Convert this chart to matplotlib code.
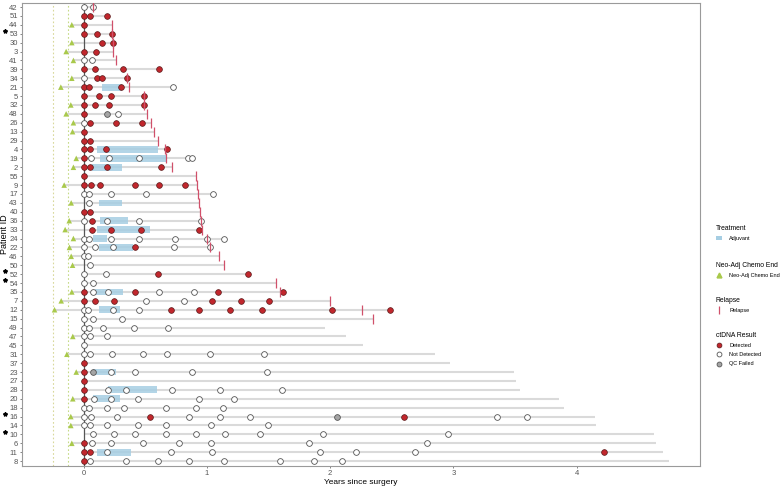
import numpy as np
import matplotlib
matplotlib.use("Agg")
import matplotlib.pyplot as plt
from matplotlib.lines import Line2D
from matplotlib.patches import Patch
import matplotlib.transforms as mtransforms

plt.rcParams["font.family"] = ["Liberation Sans", "DejaVu Sans"]

# patients top -> bottom
patients = ["42", "51", "44", "53", "30", "3", "41", "39", "34", "21", "5", "32", "48", "26",
            "13", "29", "4", "19", "2", "55", "9", "17", "43", "40", "36", "33", "24", "22",
            "46", "50", "52", "54", "35", "7", "12", "15", "49", "47", "45", "31", "37", "23",
            "27", "28", "20", "18", "16", "14", "10", "6", "11", "8"]
follow_end = [0.08, 0.19, 0.23, 0.23, 0.236, 0.24, 0.26, 0.61, 0.35, 0.727, 0.49, 0.487, 0.51, 0.547,
              0.571, 0.606, 0.68, 0.876, 0.72, 0.913, 0.921, 1.049, 0.938, 0.943, 0.951, 0.962, 1.14, 1.03,
              1.095, 1.14, 1.332, 1.563, 1.62, 2.0, 2.485, 2.347, 1.955, 2.13, 2.266, 2.854, 2.968, 3.49,
              3.51, 3.54, 3.86, 3.9, 4.15, 4.16, 4.63, 4.64, 4.7, 4.75]
starred = ["53", "52", "54", "16", "10"]

neo_end = {"44": -0.096, "30": -0.096, "3": -0.142, "41": -0.083, "34": -0.096, "21": -0.185,
           "32": -0.104, "48": -0.142, "26": -0.083, "13": -0.09, "19": -0.06, "2": -0.083,
           "9": -0.158, "43": -0.101, "36": -0.117, "33": -0.15, "24": -0.083, "22": -0.115,
           "46": -0.101, "50": -0.09, "35": -0.096, "7": -0.182, "12": -0.236, "47": -0.088,
           "31": -0.136, "23": -0.06, "20": -0.088, "16": -0.104, "14": -0.104, "6": -0.096}

relapse = {"42": 0.08, "44": 0.23, "53": 0.23, "30": 0.236, "3": 0.24, "41": 0.26, "34": 0.35,
           "21": 0.366, "5": 0.487, "32": 0.487, "48": 0.51, "26": 0.547, "13": 0.571, "29": 0.606,
           "4": 0.66, "19": 0.668, "2": 0.72, "55": 0.913, "9": 0.921, "17": 0.93, "43": 0.938,
           "40": 0.943, "36": 0.951, "33": 0.962, "24": 0.997, "22": 1.024, "46": 1.097, "50": 1.138,
           "54": 1.561, "35": 1.589, "7": 2.0, "12": 2.26, "15": 2.347}

adjuvant = {"21": (0.152, 0.314), "4": (0.112, 0.606), "19": (0.134, 0.674), "2": (0.071, 0.314),
            "43": (0.126, 0.314), "36": (0.134, 0.358), "33": (0.112, 0.541), "24": (0.074, 0.188),
            "22": (0.126, 0.398), "35": (0.093, 0.322), "12": (0.126, 0.296), "23": (0.074, 0.263),
            "28": (0.201, 0.593), "20": (0.08, 0.296), "11": (0.112, 0.382)}

detected = {"51": [0, 0.053, 0.19], "44": [0], "53": [0, 0.11, 0.23], "30": [0.145, 0.236],
            "3": [0, 0.104], "39": [0, 0.09, 0.32, 0.61], "34": [0.107, 0.15, 0.35],
            "21": [0, 0.045, 0.30], "5": [0, 0.126, 0.225, 0.487], "32": [0, 0.093, 0.206, 0.487],
            "48": [0], "26": [0.053, 0.263, 0.47], "13": [0], "29": [0, 0.053],
            "4": [0, 0.05, 0.185, 0.68], "19": [0], "2": [0, 0.053, 0.188, 0.63], "55": [0],
            "9": [0, 0.061, 0.136, 0.417, 0.614, 0.82], "40": [0, 0.055], "36": [0.071],
            "33": [0.071, 0.223, 0.466, 0.935], "22": [0.417], "52": [0.606, 1.332],
            "35": [0, 0.417, 1.092, 1.618], "7": [0, 0.09, 0.247, 1.043, 1.278, 1.505],
            "12": [0.706, 0.935, 1.19, 1.445, 2.015, 2.485], "37": [0], "23": [0], "27": [0],
            "28": [0], "20": [0], "16": [0.536, 2.598], "6": [0], "11": [0, 0.055, 4.22], "8": [0]}

not_detected = {"42": [0, 0.075], "41": [0, 0.071], "34": [0], "21": [0.727], "48": [0.28], "26": [0],
                "19": [0.058, 0.206, 0.447, 0.846, 0.876], "17": [0, 0.042, 0.22, 0.506, 1.049],
                "43": [0.047], "36": [0, 0.188, 0.452, 0.951],
                "24": [0, 0.047, 0.223, 0.449, 0.741, 0.997, 1.14], "22": [0, 0.093, 0.239, 0.733, 1.024],
                "46": [0, 0.034], "50": [0.055], "52": [0, 0.182], "54": [0, 0.074],
                "35": [0.074, 0.196, 0.611, 0.892], "7": [0.506, 0.811], "12": [0, 0.034, 0.239, 0.447],
                "15": [0, 0.074, 0.312], "49": [0, 0.042, 0.155, 0.409, 0.684], "47": [0, 0.05, 0.188],
                "45": [0], "31": [0, 0.053, 0.228, 0.482, 0.68, 1.024, 1.467],
                "23": [0.225, 0.417, 0.876, 1.491], "28": [0.196, 0.347, 0.717, 1.103, 1.61],
                "20": [0.088, 0.225, 0.439, 0.935, 1.216], "18": [0, 0.042, 0.19, 0.328, 0.665, 0.911, 1.127],
                "16": [0, 0.058, 0.271, 0.854, 1.108, 1.346, 3.35, 3.6],
                "14": [0, 0.053, 0.19, 0.439, 0.665, 1.03, 1.497],
                "10": [0.074, 0.247, 0.417, 0.665, 0.911, 1.146, 1.427, 1.942, 2.957],
                "6": [0.066, 0.22, 0.479, 0.773, 1.03, 1.83, 2.784],
                "11": [0.188, 0.706, 1.038, 1.92, 2.206, 2.684],
                "8": [0.053, 0.341, 0.606, 0.857, 1.14, 1.596, 1.866, 2.095]}

qc_failed = {"48": [0.188], "23": [0.074], "16": [2.053]}

RED = "#C1272D"
TRI = "#A9C94B"
REL = "#D0506A"
BLUE = "#A6CEE3"
GRAY_TXT = "#555555"

fig = plt.figure(figsize=(7.8, 4.88), dpi=100)
ax = fig.add_axes([22 / 780, 1 - 466 / 488, 678 / 780, 463 / 488])

# reference lines
ax.axvline(-0.25, color="#D8D89A", lw=0.8, ls=(0, (1.5, 2)), zorder=0)
ax.axvline(-0.125, color="#C5DA86", lw=0.8, ls=(0, (1.5, 2)), zorder=0)

ypos = {p: i for i, p in enumerate(patients)}
for p, end in zip(patients, follow_end):
    y = ypos[p]
    start = min(0, neo_end.get(p, 0))
    ax.plot([start, end], [y, y], color="#DADADA", lw=1.5, solid_capstyle="butt", zorder=1)

ax.axvline(0, color="#555555", lw=0.9, zorder=2)

for p, (a, b) in adjuvant.items():
    ax.add_patch(plt.Rectangle((a, ypos[p] - 0.38), b - a, 0.76, facecolor=BLUE,
                               edgecolor="none", alpha=0.85, zorder=3))

# neo-adjuvant chemo end
ax.scatter([neo_end[p] for p in neo_end], [ypos[p] for p in neo_end], marker="^", s=16,
           color=TRI, edgecolor="none", zorder=4)

def pts(d):
    xs, ys = [], []
    for p, vals in d.items():
        xs += vals
        ys += [ypos[p]] * len(vals)
    return xs, ys

x, y = pts(not_detected)
ax.scatter(x, y, s=17, facecolor="white", edgecolor="#555555", linewidth=0.6, zorder=5)
x, y = pts(qc_failed)
ax.scatter(x, y, s=17, facecolor="#A5A5A5", edgecolor="#555555", linewidth=0.6, zorder=5)
x, y = pts(detected)
ax.scatter(x, y, s=17, facecolor=RED, edgecolor="#5a1a1a", linewidth=0.5, zorder=5)

ax.scatter([relapse[p] for p in relapse], [ypos[p] for p in relapse], marker="|", s=45,
           color=REL, linewidth=0.9, zorder=6)

ax.set_xlim(-0.5, 5.0)
ax.set_ylim(51.55, -0.45)
ax.set_yticks(range(len(patients)))
ax.set_yticklabels(patients)
ax.set_xticks([0, 1, 2, 3, 4])
ax.tick_params(axis="both", labelsize=5.5, colors=GRAY_TXT, length=1.5, width=0.5, pad=1.5)
for s in ax.spines.values():
    s.set_color("#9a9a9a")
    s.set_linewidth(0.8)
ax.set_xlabel("Years since surgery", fontsize=6, labelpad=1)
ax.set_ylabel("Patient ID", fontsize=6.5, labelpad=0.5)

# stars next to some patient labels
trans = mtransforms.blended_transform_factory(ax.transAxes, ax.transData)
for p in starred:
    ax.plot(-0.025, ypos[p] - 0.3, marker="*", ms=3, color="black", transform=trans,
            clip_on=False)

# legends
leg_kw = dict(frameon=False, fontsize=4.0, title_fontsize=4.9, alignment="left",
              handlelength=1.0, handletextpad=1.4, borderpad=0, labelspacing=0.75,
              borderaxespad=0)
x0 = 716 / 780
fig.legend([Patch(facecolor=BLUE, edgecolor="none")], ["Adjuvant"], title="Treatment",
           loc="upper left", bbox_to_anchor=(x0, 1 - 225 / 488), **leg_kw)
fig.legend([Line2D([], [], marker="^", ls="", color=TRI, ms=3.5)], ["Neo-Adj Chemo End"],
           title="Neo-Adj Chemo End", loc="upper left", bbox_to_anchor=(x0, 1 - 262 / 488), **leg_kw)
fig.legend([Line2D([], [], marker="|", ls="", color=REL, ms=6, mew=0.9)], ["Relapse"],
           title="Relapse", loc="upper left", bbox_to_anchor=(x0, 1 - 297 / 488), **leg_kw)
fig.legend([Line2D([], [], marker="o", ls="", mfc=RED, mec="#5a1a1a", ms=3.5, mew=0.5),
            Line2D([], [], marker="o", ls="", mfc="white", mec="#555555", ms=3.5, mew=0.6),
            Line2D([], [], marker="o", ls="", mfc="#A5A5A5", mec="#555555", ms=3.5, mew=0.6)],
           ["Detected", "Not Detected", "QC Failed"], title="ctDNA Result",
           loc="upper left", bbox_to_anchor=(x0, 1 - 332 / 488), **leg_kw)

fig.savefig("out.png", dpi=100)
